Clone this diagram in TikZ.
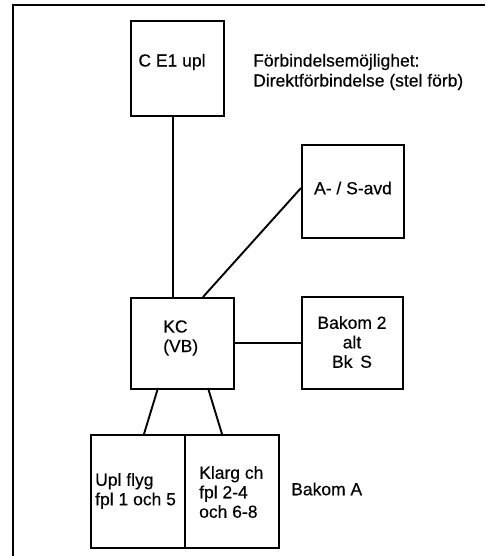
\documentclass[tikz,border=0pt]{standalone}
\usepackage{fontspec}
\setmainfont[FakeBold=0.3]{Liberation Sans}
\begin{document}
\begin{tikzpicture}[x=1pt,y=-1pt,
  box/.style={draw,line width=2pt,inner sep=0pt,anchor=north west},
  txt/.style={font=\fontsize{17.5}{19.5}\selectfont,inner sep=0pt},
  link/.style={line width=1.9pt}]
\useasboundingbox (0,0) rectangle (485,556);
\fill[white] (0,0) rectangle (485,556);
\draw[line width=1.8pt] (13,556) -- (13,5) -- (485,5);
% boxes
\node[box,minimum width=93pt,minimum height=95pt] (ce) at (130,20) {};
\node[box,minimum width=102pt,minimum height=93pt] (as) at (301,144) {};
\node[box,minimum width=103pt,minimum height=91pt] (kc) at (130,297) {};
\node[box,minimum width=101pt,minimum height=92pt] (bk) at (301,296) {};
\node[box,minimum width=94pt,minimum height=113pt] (up) at (90,434) {};
\node[box,minimum width=94pt,minimum height=113pt] (kl) at (184,434) {};
% texts
\node[txt] (tce) at (172,62) {C E1 upl};
\node[txt,anchor=west] (t1) at (253,62) {Förbindelsemöjlighet:};
\node[txt,anchor=west] (t2) at (253,82) {Direktförbindelse (stel förb)};
\node[txt] (tas) at (353,188) {A- / S-avd};
\node[txt,align=left,anchor=west] (tkc) at (163,338) {KC\\(VB)};
\node[txt,align=center] (tbk) at (352,342) {Bakom 2\\alt\\Bk\, S};
\node[txt,align=left,anchor=west] (tup) at (95,491) {Upl flyg\\fpl 1 och 5};
\node[txt,align=left,anchor=west] (tkl) at (199,492) {Klarg ch\\fpl 2-4\\och 6-8};
\node[txt,anchor=west] (tba) at (291,489) {Bakom A};
% connectors
\draw[link] (ce.south) ++(-4.5,0) coordinate (c1) -- (c1 |- kc.north);
\coordinate (d1) at (203,297);
\coordinate (d2) at (301,188);
\draw[link] (d1) -- (d2);
\draw[link] (kc.east |- 0,343) -- (bk.west |- 0,343);
\coordinate (e1) at (158,388);
\coordinate (e2) at (144,434);
\coordinate (f1) at (208,388);
\coordinate (f2) at (222,434);
\draw[link] (e1) -- (e2);
\draw[link] (f1) -- (f2);
\end{tikzpicture}
\end{document}
